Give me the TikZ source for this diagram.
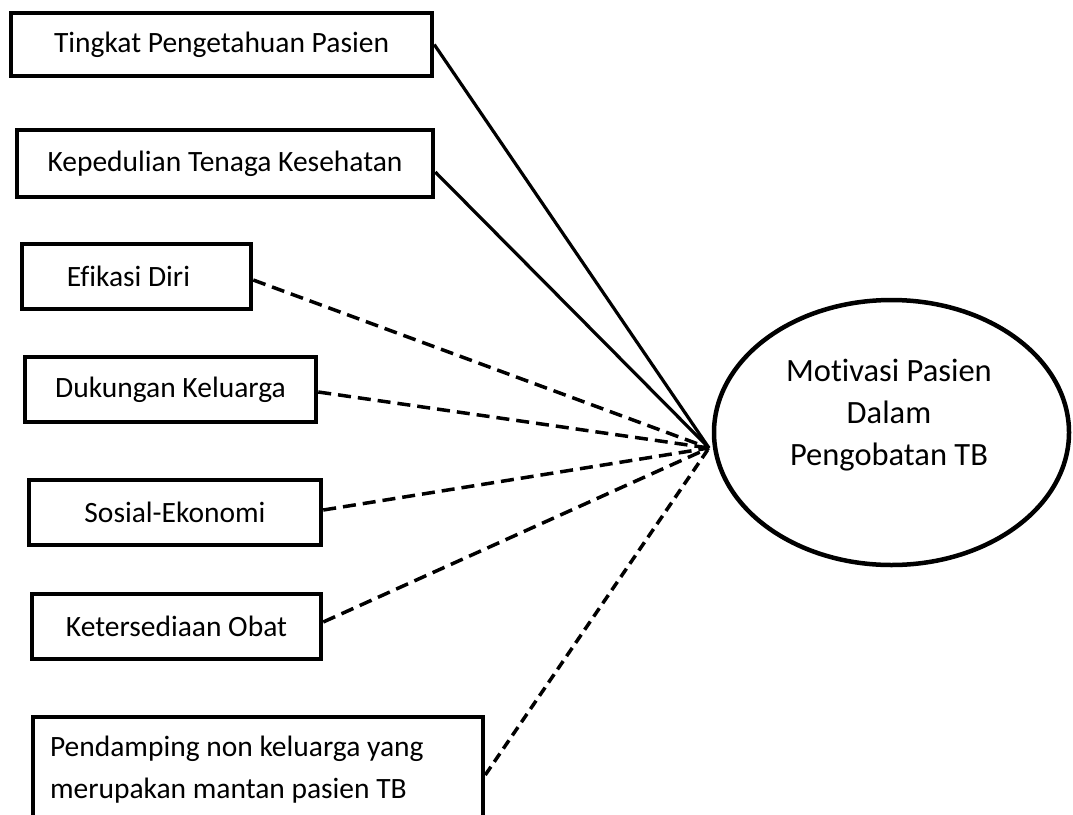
\documentclass[tikz,border=0pt]{standalone}
\usepackage{fontspec}
\setmainfont{Carlito}[Ligatures={NoCommon,NoContextual,NoRequired}]
\usetikzlibrary{shapes.geometric}
\begin{document}
\begin{tikzpicture}[x=1pt,y=-1pt,
  txt/.style={font=\fontsize{29.5}{42}\selectfont},
  bigtxt/.style={font=\fontsize{32.5}{42}\selectfont},
  box/.style={draw, line width=4.5pt, rectangle, inner sep=0pt, txt},
  solidlink/.style={line width=3.2pt},
  dashlink/.style={line width=3.5pt, dash pattern=on 13pt off 7pt},
  finedash/.style={line width=3.5pt, dash pattern=on 10pt off 6pt},
]
\useasboundingbox (0,0) rectangle (1073,814);
\clip (0,0) rectangle (1073,814);

\node[box, minimum width=421pt, minimum height=63pt] (p1) at (221.5,44.5) {Tingkat Pengetahuan Pasien};
\node[box, minimum width=416pt, minimum height=67pt] (p2) at (225,163.5) {Kepedulian Tenaga Kesehatan};
\node[box, minimum width=229pt, minimum height=65pt] (p3) at (136.5,276.5) {\hspace*{-16pt}Efikasi Diri};
\node[box, minimum width=291pt, minimum height=65pt] (p4) at (170.5,389.5) {Dukungan Keluarga};
\node[box, minimum width=292pt, minimum height=65pt] (p5) at (175,512.5) {Sosial-Ekonomi};
\node[box, minimum width=289pt, minimum height=65pt] (p6) at (176.5,626.5) {Ketersediaan Obat};
\node[box, minimum height=106pt, inner xsep=17pt, text width=416pt, align=flush left] (p7) at (258,770) {Pendamping non keluarga yang\\merupakan mantan pasien TB};

\node[draw, ellipse, line width=4.5pt, minimum width=355pt, minimum height=265pt, inner sep=0pt] (m) at (891.5,432.5) {};
\node[bigtxt, align=center] (mt) at (889,415) {Motivasi Pasien\\Dalam\\Pengobatan TB};

\coordinate (c) at (709,448);

\draw[solidlink] (p1.east) -- (c);
\draw[solidlink] ([yshift=-8.5pt]p2.east) -- (c);
\draw[dashlink] ([yshift=-3.5pt]p3.east) -- (c);
\draw[dashlink] ([yshift=-2.5pt]p4.east) -- (c);
\draw[dashlink] ([yshift=2.5pt]p5.east) -- (c);
\draw[dashlink] ([yshift=4.5pt]p6.east) -- (c);
\draw[finedash] ([yshift=-5pt]p7.east) -- (c);
\end{tikzpicture}
\end{document}
